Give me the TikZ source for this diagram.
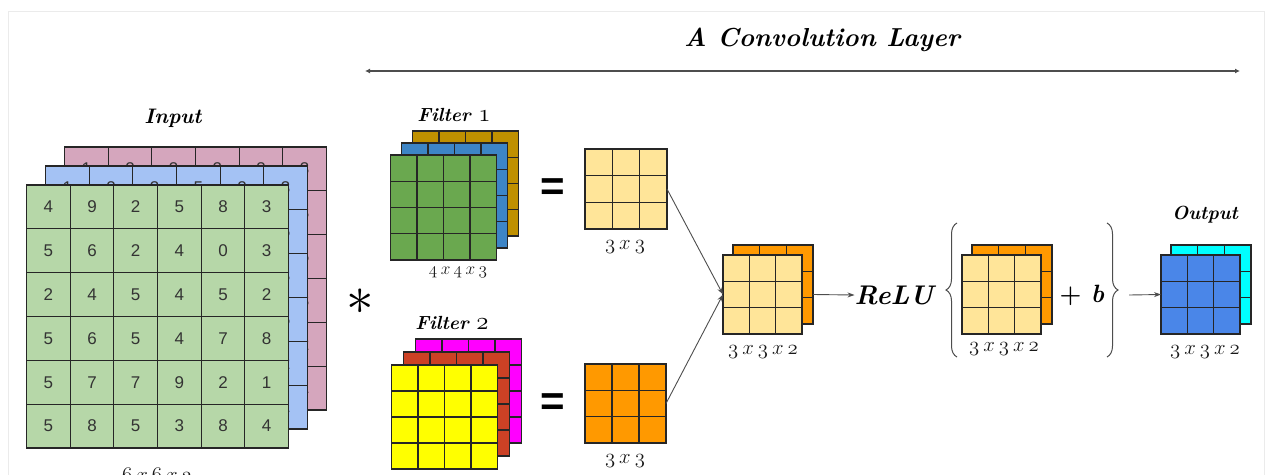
\documentclass[tikz,border=0pt]{standalone}
\usepackage{graphicx}
\usepackage{fontspec}
\newfontfamily\cellfont{Liberation Sans}
\usetikzlibrary{calc,arrows.meta,decorations.pathreplacing}
\definecolor{inGreen}{HTML}{B6D7A8}
\definecolor{inBlue}{HTML}{A4C2F4}
\definecolor{inPink}{HTML}{D5A6BD}
\definecolor{fGreen}{HTML}{6AA84F}
\definecolor{fBlue}{HTML}{3D85C6}
\definecolor{fGold}{HTML}{BF9000}
\definecolor{fYellow}{HTML}{FFFF00}
\definecolor{fRed}{HTML}{CC4125}
\definecolor{fMag}{HTML}{FF00FF}
\definecolor{lightOr}{HTML}{FFE599}
\definecolor{darkOr}{HTML}{FF9900}
\definecolor{oBlue}{HTML}{4A86E8}
\definecolor{oCyan}{HTML}{00FFFF}
\definecolor{gridc}{HTML}{262626}
\definecolor{numc}{HTML}{333333}
\definecolor{linec}{HTML}{4D4D4D}
\definecolor{framec}{HTML}{EBEBEB}
\newcommand{\osf}[1]{{\usefont{OML}{lmm}{m}{it}#1}}
\newcommand{\osfb}[1]{{\fontsize{23}{23}\usefont{OML}{lmm}{b}{it}#1}}
\newcommand{\sx}{\hspace{.2em}x\hspace{.2em}}
\newcommand{\cnnlayer}[7]{%
  \node[layerbox, fill=#7, minimum width=#4pt, minimum height=#5pt] (#1) at (#2,#3) {};
  \pgfmathtruncatemacro{\nn}{#6-1}%
  \foreach \k in {1,...,\nn}{%
    \draw[gridline] ($(#1.north west)!{\k/#6}!(#1.north east)$) -- ($(#1.south west)!{\k/#6}!(#1.south east)$);
    \draw[gridline] ($(#1.north west)!{\k/#6}!(#1.south west)$) -- ($(#1.north east)!{\k/#6}!(#1.south east)$);
  }%
}
\newcommand{\cellnums}[6]{%
  \foreach \row [count=\r] in {#6}{%
    \foreach \v [count=\c] in \row {%
      \node[numtext] (#1-\r-\c) at ({#2+(\c-0.5)*#4},{#3+(\r-0.5)*#5}) {\v};
    }%
  }%
}
% back layers: only first row and last column digits (the parts that peek out)
\newcommand{\edgenums}[7]{%
  \foreach \v [count=\c] in {#6}{%
    \node[numtext] (#1-t-\c) at ({#2+(\c-0.5)*#4},{#3+0.5*#5}) {\v};
  }%
  \foreach \v [count=\r] in {#7}{%
    \node[numtext] (#1-r-\r) at ({#2+5.5*#4},{#3+(\r+0.5)*#5}) {\v};
  }%
}
\tikzset{
  layerbox/.style={rectangle, draw=gridc, line width=1.3pt, anchor=north west, inner sep=0pt, outer sep=0pt},
  gridline/.style={draw=gridc, line width=1.3pt},
  numtext/.style={font=\cellfont\fontsize{17}{17}\selectfont, text=numc, inner sep=0pt},
  label/.style={font=\fontsize{19}{21}\selectfont\bfseries\itshape, inner sep=0pt},
  dimlabel/.style={font=\fontsize{22}{23}\selectfont, text=black!90, inner sep=0pt},
  conn/.style={draw=linec, line width=0.9pt, -{Stealth[length=7pt,width=5pt]}},
  bracestyle/.style={draw=linec, line width=1pt, decorate, decoration={brace, amplitude=11pt}},
}
\begin{document}
\begin{tikzpicture}[x=1pt, y=-1pt]
\useasboundingbox (0,0) rectangle (1266,474);
\clip (0,0) rectangle (1266,474);
\draw[framec, line width=1pt] (8,11) rectangle (1264,500);

% title
\node[font=\fontsize{26}{28}\selectfont\bfseries\itshape, inner sep=0pt] (title) at (822,40) {A Convolution Layer};
\coordinate (lineL) at (365,71);
\coordinate (lineR) at (1240,71);
\draw[linec, line width=1.5pt, {Latex[length=5pt,width=5pt]}-{Latex[length=5pt,width=5pt]}] (lineL) -- (lineR);

% input
\node[label, font=\fontsize{21}{23}\selectfont\bfseries\itshape] (inputlbl) at (173,118) {Input};
\cnnlayer{inP}{64.5}{147}{262}{263}{6}{inPink}
\edgenums{inp}{64.5}{147}{43.667}{43.833}{1,2,3,2,3,3}{3,5,3,2,1}
\cnnlayer{inB}{45.5}{166}{262}{263}{6}{inBlue}
\edgenums{inb}{45.5}{166}{43.667}{43.833}{1,2,3,5,2,3}{5,3,5,2,1}
\cnnlayer{inG}{26.5}{185}{262}{263}{6}{inGreen}
\cellnums{ing}{26.5}{185}{43.667}{43.833}{{4,9,2,5,8,3},{5,6,2,4,0,3},{2,4,5,4,5,2},{5,6,5,4,7,8},{5,7,7,9,2,1},{5,8,5,3,8,4}}
\node[dimlabel] (inputdim) at (157,477) {\osf{6\sx 6\sx 3}};

% convolution sign
\node[inner sep=0pt] (star) at (360,302) {\scalebox{5.5}{$\ast$}};

% filter 1
\node[label] (f1lbl) at (454,115) {Filter \osfb{1}};
\cnnlayer{f1c}{412.5}{131}{106}{105}{4}{fGold}
\cnnlayer{f1b}{401.5}{143}{106}{105}{4}{fBlue}
\cnnlayer{f1a}{390.5}{155}{106}{105}{4}{fGreen}
\node[dimlabel, font=\fontsize{19}{20}\selectfont] (f1dim) at (458,272) {\osf{4\sx 4\sx 3}};

% filter 2
\node[label] (f2lbl) at (452,323) {Filter \osfb{2}};
\cnnlayer{f2c}{415.5}{339}{106}{104}{4}{fMag}
\cnnlayer{f2b}{403.5}{352}{106}{104}{4}{fRed}
\cnnlayer{f2a}{391.5}{365}{106}{104}{4}{fYellow}

% equals
\node[inner sep=0pt, font=\cellfont\bfseries\fontsize{42}{42}\selectfont] (eq1) at (553,190) {=};
\node[inner sep=0pt, font=\cellfont\bfseries\fontsize{42}{42}\selectfont] (eq2) at (553,405) {=};

% results 3x3
\cnnlayer{r1}{585}{149}{82}{80}{3}{lightOr}
\node[dimlabel] (r1dim) at (625,247) {\osf{3\sx 3}};
\cnnlayer{r2}{585}{364}{81}{79}{3}{darkOr}
\node[dimlabel] (r2dim) at (625,461) {\osf{3\sx 3}};

% stacked
\cnnlayer{mB}{733}{245}{80}{79}{3}{darkOr}
\cnnlayer{mF}{723}{255}{79}{79}{3}{lightOr}
\node[dimlabel] (mdim) at (763,352) {\osf{3\sx 3\sx 2}};

\draw[conn] (r1.east) -- (mF.west);
\draw[conn] (r2.east) -- (mF.west);

% ReLU
\node[inner sep=0pt, font=\fontsize{27}{28}\selectfont\bfseries\itshape] (relu) at (894,295) {ReLU};
\draw[conn] (mF.east -| mB.east) -- (relu.west);

\coordinate (bl1) at (957,357);
\coordinate (bl2) at (957,223);
\draw[bracestyle] (bl1) -- (bl2);
\cnnlayer{rB}{972}{245}{80}{79}{3}{darkOr}
\cnnlayer{rF}{962}{255}{79}{79}{3}{lightOr}
\node[dimlabel] (rdim) at (1004,349) {\osf{3\sx 3\sx 2}};
\node[inner sep=0pt, font=\fontsize{25}{26}\selectfont\bfseries] (plusb) at (1082,295) {+ \textit{b}};
\coordinate (br1) at (1107,223);
\coordinate (br2) at (1107,357);
\draw[bracestyle] (br1) -- (br2);

% output
\coordinate (btip) at (1129,295);
\node[label] (outlbl) at (1205,215) {Output};
\cnnlayer{oB}{1171}{245}{80}{79}{3}{oCyan}
\cnnlayer{oF}{1161}{255}{79}{79}{3}{oBlue}
\draw[conn] (btip) -- (oF.west);
\node[dimlabel] (odim) at (1205,352) {\osf{3\sx 3\sx 2}};
\end{tikzpicture}
\end{document}
